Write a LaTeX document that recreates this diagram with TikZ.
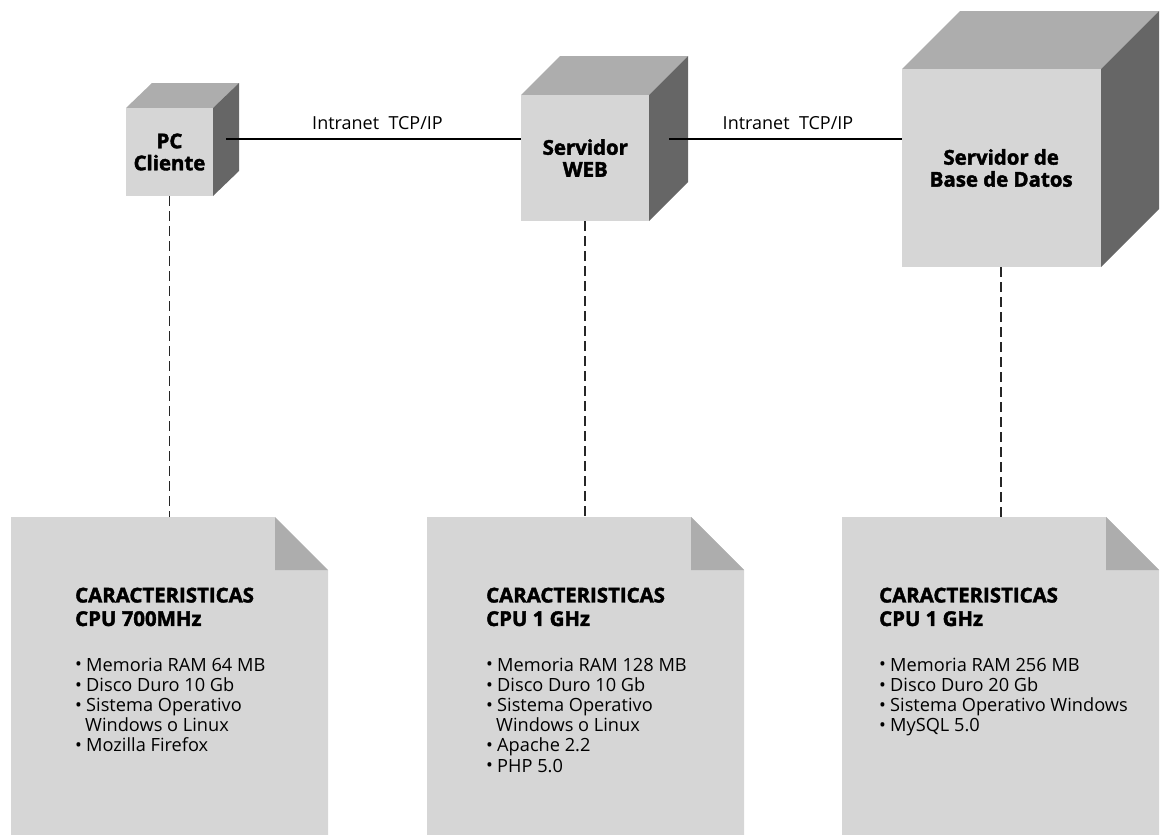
\documentclass[tikz,border=0pt]{standalone}
\usepackage{fontspec}
\setmainfont[BoldFeatures={FakeBold=2}]{Open Sans}
\definecolor{facefront}{HTML}{D6D6D6}
\definecolor{facetop}{HTML}{ADADAD}
\definecolor{faceside}{HTML}{666666}
\tikzset{
  x=1pt,y=-1pt,
  frontface/.style={fill=facefront,draw=none,inner sep=0pt,align=center,font=\fontsize{20.4}{23}\selectfont\bfseries},
  linelabel/.style={inner sep=0pt,anchor=base,font=\fontsize{18}{20}\selectfont},
  notehead/.style={inner sep=0pt,anchor=north west,align=left,font=\fontsize{20.4}{23.5}\selectfont\bfseries},
  notelist/.style={inner sep=0pt,anchor=north west,align=left,font=\fontsize{18.2}{20.2}\selectfont},
  solidlink/.style={draw=black,line width=2pt},
  dashlink/.style={draw=black!85,line width=1.7pt,dash pattern=on 9.5pt off 5.5pt}
}
\newcommand{\cubeshape}[7]{% name, x0,y0,x1,y1,depth x,depth y
  \fill[facetop] (#2,#3) -- (#2+#6,#3-#7) -- (#4+#6,#3-#7) -- (#4,#3) -- cycle;
  \fill[faceside] (#4,#3) -- (#4+#6,#3-#7) -- (#4+#6,#5-#7) -- (#4,#5) -- cycle;
}
\newcommand{\noteshape}[1]{% left x
  \fill[facefront] (#1,517) -- (#1+264,517) -- (#1+317,570) -- (#1+317,835) -- (#1,835) -- cycle;
  \fill[facetop] (#1+264,517) -- (#1+317,570) -- (#1+264,570) -- cycle;
}
\newcommand{\bul}{\makebox[11pt][l]{\raisebox{0.1pt}{•}}}
\begin{document}
\begin{tikzpicture}
\useasboundingbox (0,0) rectangle (1163,835);
% cubes
\cubeshape{pc}{126}{108}{213}{196}{26}{25}
\cubeshape{web}{521}{95}{649}{221}{39}{39}
\cubeshape{db}{902}{69}{1101}{267}{58}{58}
\node[frontface,minimum width=87pt,minimum height=88pt] (pc) at (169.5,152) {PC\\[-1pt]Cliente};
\node[frontface,minimum width=128pt,minimum height=126pt] (web) at (585.3,158) {Servidor\\[-1pt]WEB};
\node[frontface,minimum width=199pt,minimum height=198pt] (db) at (1001.2,168) {Servidor de\\[-1pt]Base de Datos};
% notes
\noteshape{11}
\noteshape{427}
\noteshape{842}
\coordinate (note1) at (169.5,517);
\coordinate (note2) at (585.3,517);
\coordinate (note3) at (1001.2,517);
\coordinate (pcport) at (226,139.3);
\coordinate (webout) at (669,139.3);
% connectors
\draw[solidlink] (pcport) -- (pcport -| web.west);
\draw[solidlink] (webout) -- (webout -| db.west);
\draw[dashlink] (pc.south) -- (note1);
\draw[dashlink] (web.south) -- (note2);
\draw[dashlink] (db.south) -- (note3);
\node[linelabel] (l1) at (377.5,129) {Intranet\ \ TCP/IP};
\node[linelabel] (l2) at (788,129) {Intranet\ \ TCP/IP};
% note text
\node[notehead] (h1) at (75,587.5) {CARACTERISTICAS\\CPU 700MHz};
\node[notelist] (t1) at (75,657.5) {\bul Memoria RAM 64 MB\\\bul Disco Duro 10 Gb\\\bul Sistema Operativo\\\hspace*{10pt}Windows o Linux\\\bul Mozilla Firefox};
\node[notehead] (h2) at (486,587.5) {CARACTERISTICAS\\CPU 1 GHz};
\node[notelist] (t2) at (486,657.5) {\bul Memoria RAM 128 MB\\\bul Disco Duro 10 Gb\\\bul Sistema Operativo\\\hspace*{10pt}Windows o Linux\\\bul Apache 2.2\\\bul PHP 5.0};
\node[notehead] (h3) at (879,587.5) {CARACTERISTICAS\\CPU 1 GHz};
\node[notelist] (t3) at (879,657.5) {\bul Memoria RAM 256 MB\\\bul Disco Duro 20 Gb\\\bul Sistema Operativo Windows\\\bul MySQL 5.0};
\end{tikzpicture}
\end{document}
